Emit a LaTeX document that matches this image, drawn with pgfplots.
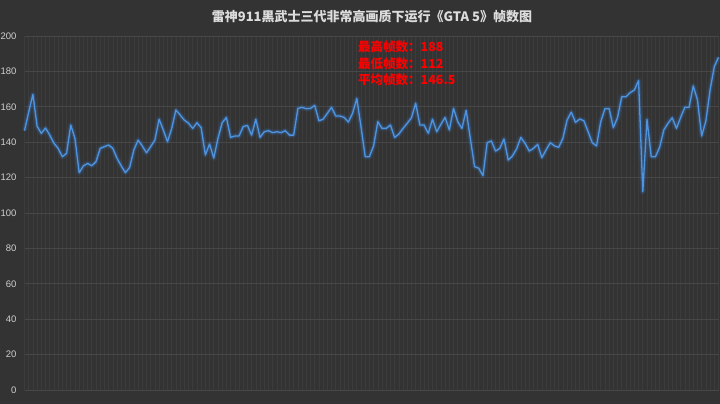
\documentclass[border=0pt]{standalone}
\usepackage{pgfplots}
\pgfplotsset{compat=1.18}
\usepackage{pgfplotstable}
\usepackage{fontspec}
\setmainfont{Liberation Sans}
\newfontfamily\cjk{Noto Sans CJK SC}
\definecolor{bgc}{HTML}{333333}
\definecolor{hgrid}{HTML}{474747}
\definecolor{vgrid}{HTML}{3C3C3C}
\definecolor{linec}{HTML}{4E94E0}
\definecolor{glowc}{HTML}{3A80D4}
\definecolor{titlec}{HTML}{DDDDDD}
\definecolor{labc}{HTML}{CFCFCF}

\pgfplotstableread{
fps
146.5
157
167
149
145
148
144
139.4
136.5
131.8
133.7
149.7
142
122.8
126.6
128
126.7
129
136.5
137.5
138.4
136.5
130.9
126.6
122.8
125.8
135.6
141.2
137.9
134
137.5
141.2
153
146.9
140.3
147.8
158.2
155.4
152.5
150.7
147.8
151
148.2
132.8
139
131
142.2
151
154
142.7
143.5
143.5
148.8
149.5
144
153
142.7
145.9
146.5
145.4
145.9
145.4
146.5
144
144
159.1
159.7
158.9
159.1
160.8
152.1
153
156.3
159.7
154.8
154.8
154
151.4
156.3
164.7
148.8
131.8
131.8
137.9
151.6
147.8
147.8
149.7
142.7
144.6
147.8
150.7
153.8
162
149.7
149.7
145
153
145.9
150.1
154
146.9
159.1
151.6
147.8
158
142
126.2
125.3
121.1
139.7
140.7
135
136.5
141.8
129.9
132.2
136.2
142.7
139.4
135
136.5
138.8
131.2
135.6
139.7
137.9
137.1
142.2
152.5
157
151.2
153.1
152.1
145.9
139.7
137.9
151.6
158.9
158.9
148.2
154
165.7
165.7
168
169.5
174.8
112
152.9
131.8
131.8
137.1
146.9
150.7
153.8
147.8
154
159.7
159.7
171.8
163.8
143.5
152.1
169.5
182.7
188
}\fpsdata

\begin{document}
\begin{tikzpicture}[x=1pt,y=1pt]
\fill[bgc] (0,0) rectangle (720,404);
\begin{axis}[
  at={(24.5pt,14pt)}, anchor=south west,
  scale only axis, width=694pt, height=354pt,
  xmin=0, xmax=165, ymin=0, ymax=200,
  axis line style={draw=none},
  tick style={draw=none},
  xtick={0,...,165}, xticklabels={},
  ytick={0,20,...,200},
  xmajorgrids, ymajorgrids,
  x grid style={vgrid, line width=0.6pt},
  y grid style={hgrid, line width=0.8pt},
  yticklabel style={font=\fontsize{9.5}{11}\selectfont, text=labc, anchor=east, xshift=-4.5pt},
  /pgf/number format/assume math mode=true,
  clip=false,
]
\addplot[glowc, line width=6pt, opacity=0.10, line join=round, no markers] table[x expr=\coordindex, y=fps] {\fpsdata};
\addplot[glowc, line width=3.6pt, opacity=0.25, line join=round, no markers] table[x expr=\coordindex, y=fps] {\fpsdata};
\addplot[linec, line width=1.3pt, line join=round, no markers] table[x expr=\coordindex, y=fps] {\fpsdata};
\end{axis}
\node[text=titlec, font=\cjk\bfseries\fontsize{13}{15}\selectfont] at (372,387) {雷神911黑武士三代非常高画质下运行《GTA 5》帧数图};
\begin{scope}[every node/.style={anchor=west, inner sep=0pt, text=red, font=\cjk\bfseries\fontsize{12.5}{14}\selectfont}]
\node at (358,357.3) {最高帧数：188};
\node at (358,340.7) {最低帧数：112};
\node at (358,324) {平均帧数：146.5};
\end{scope}
\pgfresetboundingbox
\path[use as bounding box] (0,0) rectangle (720,404);
\end{tikzpicture}
\end{document}
